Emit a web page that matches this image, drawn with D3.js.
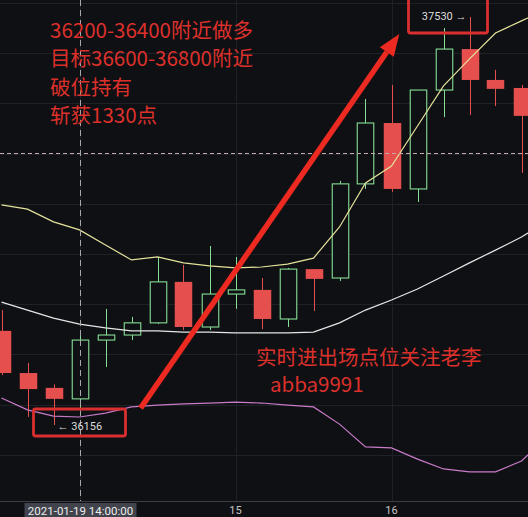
<!DOCTYPE html>
<html>
<head>
<meta charset="utf-8">
<script src="https://cdn.jsdelivr.net/npm/d3@7"></script>
<style>
  html, body { margin: 0; padding: 0; background: #0f1014; }
  svg { display: block; }
</style>
</head>
<body>
<div id="chart"></div>
<script>
// 10-minute bars, 2021-01-19 (the 17:00 slot only carries band values)
const times = ["13:30","13:40","13:50","14:00","14:10","14:20","14:30","14:40","14:50","15:00","15:10",
               "15:20","15:30","15:40","15:50","16:00","16:10","16:20","16:30","16:40","16:50","17:00"];
const opens  = [36473,36331,36281,36244,36442,36459,36500,36638,36486,36597,36611,
                36513,36681,36651,36968,37173,36951,37284,37422,37318,37291];
const highs  = [36543,36365,36293,36466,36547,36520,36722,36695,36759,36722,36651,
                36685,36681,36978,37254,37301,37284,37493,37530,37352,37301];
const lows   = [36324,36183,36156,36213,36351,36442,36496,36476,36476,36547,36479,
                36486,36540,36641,36951,36941,36907,37193,37200,37230,37005];
const closes = [36331,36277,36244,36442,36459,36500,36638,36486,36597,36611,36513,
                36681,36648,36968,37173,36951,37284,37422,37318,37288,37197];

// Bollinger bands
const upperBand  = [36897,36883,36840,36813,36762,36712,36722,36702,36692,36685,36688,
                    36698,36718,36823,36971,37028,37163,37298,37389,37476,37517,37557];
const middleBand = [36570,36543,36516,36496,36483,36473,36473,36469,36469,36466,36466,
                    36466,36469,36500,36543,36577,36614,36658,36702,36745,36789,36843];
const lowerBand  = [36247,36207,36186,36183,36196,36217,36223,36227,36230,36233,36230,
                    36223,36217,36159,36082,36079,36041,36008,35998,35998,36035,36116];

const hourTicks  = ["14:00","15:00","16:00"];
const hourLabels = ["14","15","16"];
const lastPrice = 37072;
const crosshairTime = "14:00";
const crosshairLabel = "2021-01-19 14:00:00";
const lowIndex = 2, lowPrice = 36156;
const highIndex = 18, highPrice = 37530;

const noteLines = ["36200-36400附近做多", "目标36600-36800附近", "破位持有", "斩获1330点"];
const contactLines = ["实时进出场点位关注老李", "abba9991"];
// trade arrow: from entry zone to the session high
const arrowStart = { time: "14:23:30", price: 36213 };
const arrowEnd   = { time: "16:03:00", price: 37473 };

const W = 528, H = 517, axisY = 501.5;
const parse = d3.timeParse("%Y-%m-%d %H:%M:%S");
const T = s => parse("2021-01-19 " + (s.length === 5 ? s + ":00" : s));

const x = d3.scaleTime().domain([T(times[0]), T(times[20])]).range([1.5, 521.5]);
const y = d3.scaleLinear().domain([lowPrice, highPrice]).range([425, 17]);
const step = x(T(times[1])) - x(T(times[0]));
const bodyW = step * 0.635;

const svg = d3.select("#chart").append("svg").attr("width", W).attr("height", H);
svg.append("rect").attr("width", W).attr("height", H).attr("fill", "#0f1014");

const plot = svg.append("g");
// grid
plot.append("g").selectAll("line").data(d3.range(10)).join("line")
  .attr("x1", 0).attr("x2", W)
  .attr("y1", k => Math.round(3 + k * 50.2) + 0.5).attr("y2", k => Math.round(3 + k * 50.2) + 0.5)
  .attr("stroke", "#1f2127").attr("stroke-width", 1);
plot.append("g").selectAll("line").data(hourTicks).join("line")
  .attr("x1", d => Math.round(x(T(d))) + 0.5).attr("x2", d => Math.round(x(T(d))) + 0.5)
  .attr("y1", 0).attr("y2", axisY)
  .attr("stroke", "#1f2127").attr("stroke-width", 1);

// candles
const candles = opens.map((o, i) => ({ t: T(times[i]), o, h: highs[i], l: lows[i], c: closes[i] }));
const RED = "#e5504f", GREEN = "#86df95";
const cg = plot.append("g");
candles.forEach(d => {
  const cx = Math.round(x(d.t)) + 0.5;
  const up = d.c >= d.o;
  const top = y(Math.max(d.o, d.c)), bot = y(Math.min(d.o, d.c));
  const col = up ? GREEN : RED;
  if (up) {
    cg.append("line").attr("x1", cx).attr("x2", cx).attr("y1", y(d.h)).attr("y2", top).attr("stroke", col);
    cg.append("line").attr("x1", cx).attr("x2", cx).attr("y1", bot).attr("y2", y(d.l)).attr("stroke", col);
    cg.append("rect").attr("x", cx - bodyW / 2).attr("y", top)
      .attr("width", bodyW).attr("height", Math.max(1, bot - top))
      .attr("fill", "#0f1014").attr("stroke", col).attr("stroke-width", 1.1);
  } else {
    cg.append("line").attr("x1", cx).attr("x2", cx).attr("y1", y(d.h)).attr("y2", y(d.l)).attr("stroke", col);
    cg.append("rect").attr("x", cx - bodyW / 2 - 0.5).attr("y", top)
      .attr("width", bodyW + 1).attr("height", Math.max(1, bot - top))
      .attr("fill", col);
  }
});

// bands
const bandLine = vals => d3.line().x((v, i) => x(T(times[i]))).y(v => y(v))(vals);
[[upperBand, "#e4e29a"], [middleBand, "#e6e6e6"], [lowerBand, "#c77ac8"]].forEach(([vals, col]) => {
  plot.append("path").attr("d", bandLine(vals)).attr("fill", "none")
    .attr("stroke", col).attr("stroke-width", 1.2);
});

// last price line
plot.append("line").attr("x1", 0).attr("x2", W)
  .attr("y1", Math.round(y(lastPrice)) + 0.5).attr("y2", Math.round(y(lastPrice)) + 0.5)
  .attr("stroke", "#c9a9ad").attr("stroke-width", 1).attr("stroke-dasharray", "4,3");

// crosshair
const chx = Math.round(x(T(crosshairTime))) + 0.5;
plot.append("line").attr("x1", chx).attr("x2", chx).attr("y1", 0).attr("y2", axisY)
  .attr("stroke", "#a8a8a8").attr("stroke-width", 1).attr("stroke-dasharray", "6,4");

// axis
svg.append("line").attr("x1", 0).attr("x2", W).attr("y1", axisY).attr("y2", axisY)
  .attr("stroke", "#3b3e45").attr("stroke-width", 1);
svg.append("g").selectAll("text").data(hourTicks.slice(1)).join("text")
  .attr("x", d => x(T(d))).attr("y", 514).attr("text-anchor", "middle")
  .attr("font-family", "Roboto, 'Noto Sans', sans-serif").attr("font-size", 11)
  .attr("fill", "#c4c4c4").text((d, i) => hourLabels[i + 1]);
svg.append("rect").attr("x", chx - 56).attr("y", 503).attr("width", 112).attr("height", 16)
  .attr("fill", "#41444c");
svg.append("text").attr("x", chx).attr("y", 514.5).attr("text-anchor", "middle")
  .attr("font-family", "Roboto, 'Noto Sans', sans-serif").attr("font-size", 11.5)
  .attr("fill", "#ececec").text(crosshairLabel);

// high / low markers
const lx = x(T(times[lowIndex])), ly = y(lowPrice);
const hx = x(T(times[highIndex])), hy = y(highPrice);
const ann = svg.append("g");
ann.append("text").attr("x", lx + 4).attr("y", ly + 5).attr("font-family", "Roboto, 'Noto Sans', sans-serif")
  .attr("font-size", 11).attr("fill", "#dcdcdc").text("← " + lowPrice);
ann.append("text").attr("x", hx - 3).attr("y", hy + 3).attr("text-anchor", "end")
  .attr("font-family", "Roboto, 'Noto Sans', sans-serif")
  .attr("font-size", 11).attr("fill", "#dcdcdc").text(highPrice + " →");

const BOX = "#d92f2f";
ann.append("rect").attr("x", lx - 20).attr("y", ly - 16).attr("width", 92).attr("height", 27)
  .attr("rx", 2).attr("fill", "none").attr("stroke", BOX).attr("stroke-width", 2.8);
ann.append("rect").attr("x", hx - 61).attr("y", hy - 25).attr("width", 79).attr("height", 41)
  .attr("rx", 2).attr("fill", "none").attr("stroke", BOX).attr("stroke-width", 2.8);

// trade arrow
const ax0 = x(T(arrowStart.time)), ay0 = y(arrowStart.price);
const ax1 = x(T(arrowEnd.time)), ay1 = y(arrowEnd.price);
const ang = Math.atan2(ay1 - ay0, ax1 - ax0);
const headLen = 22, headHalf = 8.5;
const bx = ax1 - headLen * Math.cos(ang), by = ay1 - headLen * Math.sin(ang);
const nx = -Math.sin(ang), ny = Math.cos(ang);
ann.append("line").attr("x1", ax0).attr("y1", ay0).attr("x2", bx).attr("y2", by)
  .attr("stroke", "#ec2a22").attr("stroke-width", 5.5);
ann.append("path")
  .attr("d", `M${ax1},${ay1}L${bx + nx * headHalf},${by + ny * headHalf}L${bx - nx * headHalf},${by - ny * headHalf}Z`)
  .attr("fill", "#ec2a22");

// notes
const CJK = "'Noto Sans CJK SC', 'Noto Sans', sans-serif";
ann.append("g").selectAll("text").data(noteLines).join("text")
  .attr("x", 50).attr("y", (d, i) => 38 + i * 28.3)
  .attr("font-family", CJK).attr("font-size", 20.5).attr("fill", "#dc302b").text(d => d);
ann.append("text").attr("x", 256).attr("y", 365).attr("font-family", CJK)
  .attr("font-size", 20.5).attr("fill", "#dc302b").text(contactLines[0]);
ann.append("text").attr("x", 270).attr("y", 392).attr("font-family", CJK)
  .attr("font-size", 20.5).attr("fill", "#dc302b").text(contactLines[1]);
</script>
</body>
</html>
